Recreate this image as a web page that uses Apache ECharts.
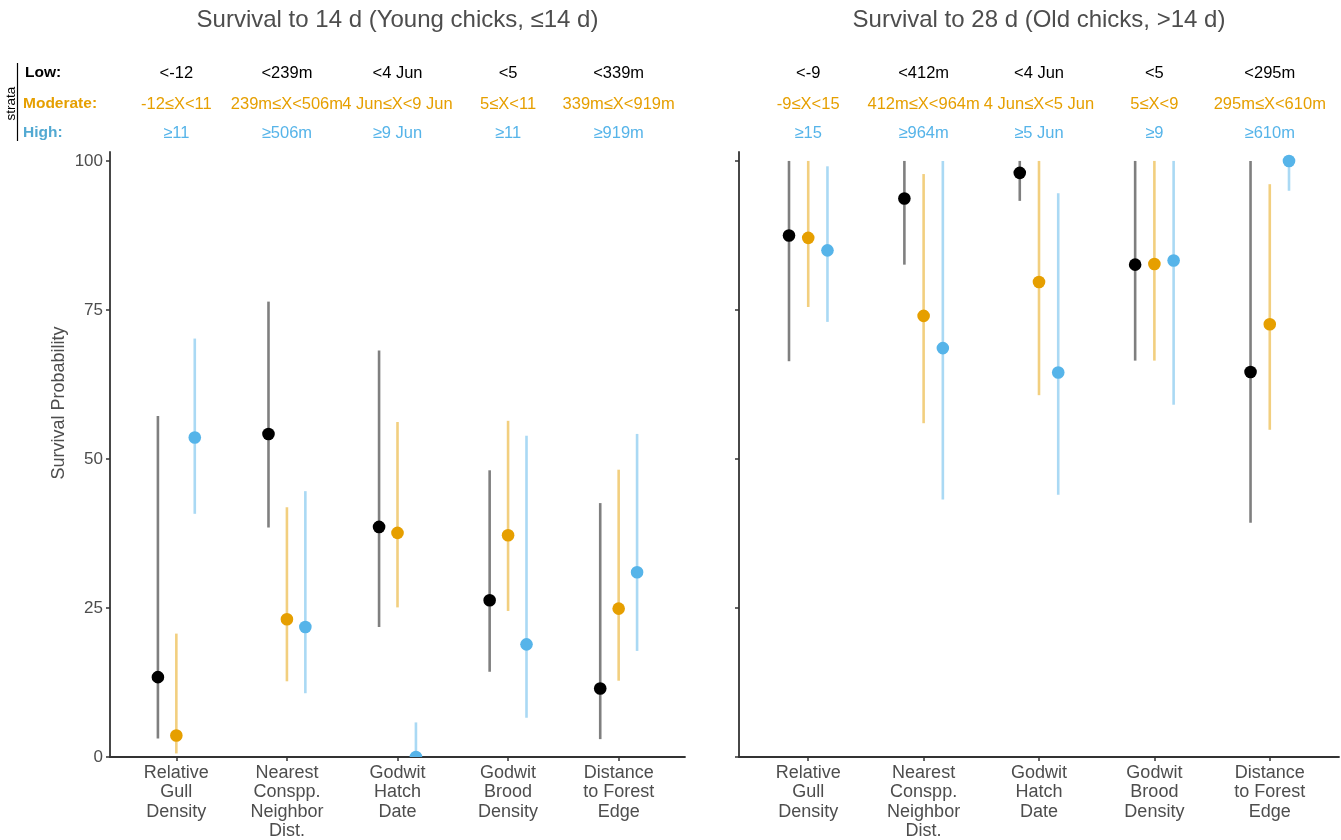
<!DOCTYPE html>
<html>
<head>
<meta charset="utf-8">
<script src="https://cdn.jsdelivr.net/npm/echarts@6/dist/echarts.min.js"></script>
<style>
  html, body { margin: 0; padding: 0; background: #ffffff; }
  #chart { width: 1341px; height: 840px; }
</style>
</head>
<body>
<div id="chart"></div>
<script>
// Covariates on the x axis (one group of three strata each)
const covariates = [
  'Relative\nGull\nDensity',
  'Nearest\nConspp.\nNeighbor\nDist.',
  'Godwit\nHatch\nDate',
  'Godwit\nBrood\nDensity',
  'Distance\nto Forest\nEdge'
];
const strata = ['Low', 'Moderate', 'High'];
const yTicks = [0, 25, 50, 75, 100];
const panelTitles = [
  'Survival to 14 d (Young chicks, \u226414 d)',
  'Survival to 28 d (Old chicks, >14 d)'
];

// [estimate, lower CI, upper CI] in percent, one row per covariate
const youngLow      = [[13.4, 3.1, 57.2], [54.2, 38.5, 76.4], [38.6, 21.8, 68.2], [26.3, 14.3, 48.1], [11.5, 3.0, 42.6]];
const youngModerate = [[3.6, 0.6, 20.7], [23.1, 12.7, 41.9], [37.6, 25.1, 56.2], [37.2, 24.5, 56.4], [24.9, 12.8, 48.2]];
const youngHigh     = [[53.6, 40.8, 70.2], [21.8, 10.7, 44.6], [0.0, 0.0, 5.8], [18.9, 6.6, 53.9], [31.0, 17.8, 54.2]];
const oldLow        = [[87.5, 66.4, 100], [93.7, 82.6, 100], [98.0, 93.3, 100], [82.6, 66.5, 100], [64.6, 39.3, 100]];
const oldModerate   = [[87.1, 75.5, 100], [74.0, 56.0, 97.8], [79.7, 60.7, 100], [82.7, 66.5, 100], [72.6, 54.9, 96.1]];
const oldHigh       = [[85.0, 73.0, 99.1], [68.6, 43.2, 100], [64.5, 44.0, 94.6], [83.3, 59.1, 100], [100, 95.0, 100]];

// Stratum cut-offs shown above each covariate
const youngLowCuts      = ['<-12', '<239m', '<4 Jun', '<5', '<339m'];
const youngModerateCuts = ['-12\u2264X<11', '239m\u2264X<506m', '4 Jun\u2264X<9 Jun', '5\u2264X<11', '339m\u2264X<919m'];
const youngHighCuts     = ['\u226511', '\u2265506m', '\u22659 Jun', '\u226511', '\u2265919m'];
const oldLowCuts        = ['<-9', '<412m', '<4 Jun', '<5', '<295m'];
const oldModerateCuts   = ['-9\u2264X<15', '412m\u2264X<964m', '4 Jun\u2264X<5 Jun', '5\u2264X<9', '295m\u2264X<610m'];
const oldHighCuts       = ['\u226515', '\u2265964m', '\u22655 Jun', '\u22659', '\u2265610m'];

const FONT = '"Liberation Sans", Arial, Helvetica, sans-serif';
const pointColors = ['#000000', '#E69F00', '#56B4E9'];
const lineColors = ['rgba(0,0,0,0.5)', 'rgba(230,159,0,0.5)', 'rgba(86,180,233,0.5)'];
const rowLabelColors = ['#000000', '#E69F00', '#52A9D2'];
const dodge = [-1 / 6, 0, 1 / 6];
const AXIS = '#333333';
const TEXT = '#4D4D4D';

const panels = [
  { rows: [youngLow, youngModerate, youngHigh], cuts: [youngLowCuts, youngModerateCuts, youngHighCuts] },
  { rows: [oldLow, oldModerate, oldHigh], cuts: [oldLowCuts, oldModerateCuts, oldHighCuts] }
];

const gridBoxes = [
  { left: 110, top: 152, width: 575, height: 605 },
  { left: 739, top: 152, width: 600, height: 605 }
];

function renderPointRange(params, api) {
  const x = api.value(0);
  const g = api.value(4);
  const pE = api.coord([x, api.value(1)]);
  const pLo = api.coord([x, api.value(2)]);
  const pHi = api.coord([x, api.value(3)]);
  return {
    type: 'group',
    children: [
      { type: 'line', shape: { x1: pLo[0], y1: pLo[1], x2: pHi[0], y2: pHi[1] },
        style: { stroke: lineColors[g], lineWidth: 2.6 } },
      { type: 'circle', shape: { cx: pE[0], cy: pE[1], r: 6.3 },
        style: { fill: pointColors[g] } }
    ]
  };
}

const grids = gridBoxes.map(b => Object.assign({ containLabel: false, outerBoundsMode: 'none' }, b));
const xAxes = [];
const yAxes = [];
const series = [];

panels.forEach((panel, p) => {
  xAxes.push({
    gridIndex: p, type: 'value', min: 0.4, max: 5.6,
    splitLine: { show: false },
    axisLine: { show: true, onZero: false, lineStyle: { color: AXIS, width: 1.8 } },
    axisTick: { show: true, customValues: [1, 2, 3, 4, 5], length: 4, lineStyle: { color: AXIS, width: 1.5 } },
    axisLabel: {
      show: true, customValues: [1, 2, 3, 4, 5],
      formatter: v => covariates[Math.round(v) - 1],
      fontFamily: FONT, fontSize: 18, lineHeight: 19.5, color: TEXT, margin: 6
    }
  });
  yAxes.push({
    gridIndex: p, type: 'value', min: 0, max: 101.5,
    splitLine: { show: false },
    axisLine: { show: true, onZero: false, lineStyle: { color: AXIS, width: 1.8 } },
    axisTick: { show: true, customValues: yTicks, length: 4, lineStyle: { color: AXIS, width: 1.5 } },
    axisLabel: {
      show: p === 0, customValues: yTicks,
      fontFamily: FONT, fontSize: 17, color: TEXT, margin: 7
    }
  });
  panel.rows.forEach((rows, s) => {
    series.push({
      type: 'custom', name: strata[s],
      xAxisIndex: p, yAxisIndex: p,
      clip: true,
      renderItem: renderPointRange,
      encode: { x: 0, y: [1, 2, 3] },
      data: rows.map((r, i) => [i + 1 + dodge[s], r[0], r[1], r[2], s])
    });
  });
});

const chart = echarts.init(document.getElementById('chart'), null, { renderer: 'canvas' });
chart.setOption({
  animation: false,
  backgroundColor: '#ffffff',
  grid: grids,
  xAxis: xAxes,
  yAxis: yAxes,
  series: series
});

// Titles, y-axis name and the stratum cut-off table, placed from the axis scales
const rowY = [73, 104, 133];
const graphics = [];
panels.forEach((panel, p) => {
  const b = gridBoxes[p];
  graphics.push({
    type: 'text', x: b.left + b.width / 2, y: 20,
    style: { text: panelTitles[p], font: '24px ' + FONT, fill: TEXT, align: 'center', verticalAlign: 'middle' }
  });
  panel.cuts.forEach((cuts, s) => {
    cuts.forEach((label, i) => {
      const px = chart.convertToPixel({ xAxisIndex: p, yAxisIndex: p }, [i + 1, 0])[0];
      graphics.push({
        type: 'text', x: px, y: rowY[s],
        style: { text: label, font: '16.5px ' + FONT, fill: pointColors[s], align: 'center', verticalAlign: 'middle' }
      });
    });
  });
});

// Stratum row labels with the "strata" header bar
const rowLabelX = [25, 23, 23];
strata.forEach((name, s) => {
  graphics.push({
    type: 'text', x: rowLabelX[s], y: rowY[s],
    style: { text: name + ':', font: 'bold 15.5px ' + FONT, fill: rowLabelColors[s], align: 'left', verticalAlign: 'middle' }
  });
});
graphics.push({
  type: 'text', x: 11, y: 103.5, rotation: Math.PI / 2,
  style: { text: 'strata', font: '13.5px ' + FONT, fill: '#000000', align: 'center', verticalAlign: 'middle' }
});
graphics.push({
  type: 'line', shape: { x1: 17.5, y1: 63, x2: 17.5, y2: 141 },
  style: { stroke: '#000000', lineWidth: 1.2 }
});
graphics.push({
  type: 'text', x: 59, y: 403, rotation: Math.PI / 2,
  style: { text: 'Survival Probability', font: '18px ' + FONT, fill: TEXT, align: 'center', verticalAlign: 'middle' }
});

chart.setOption({ graphic: graphics });
</script>
</body>
</html>
